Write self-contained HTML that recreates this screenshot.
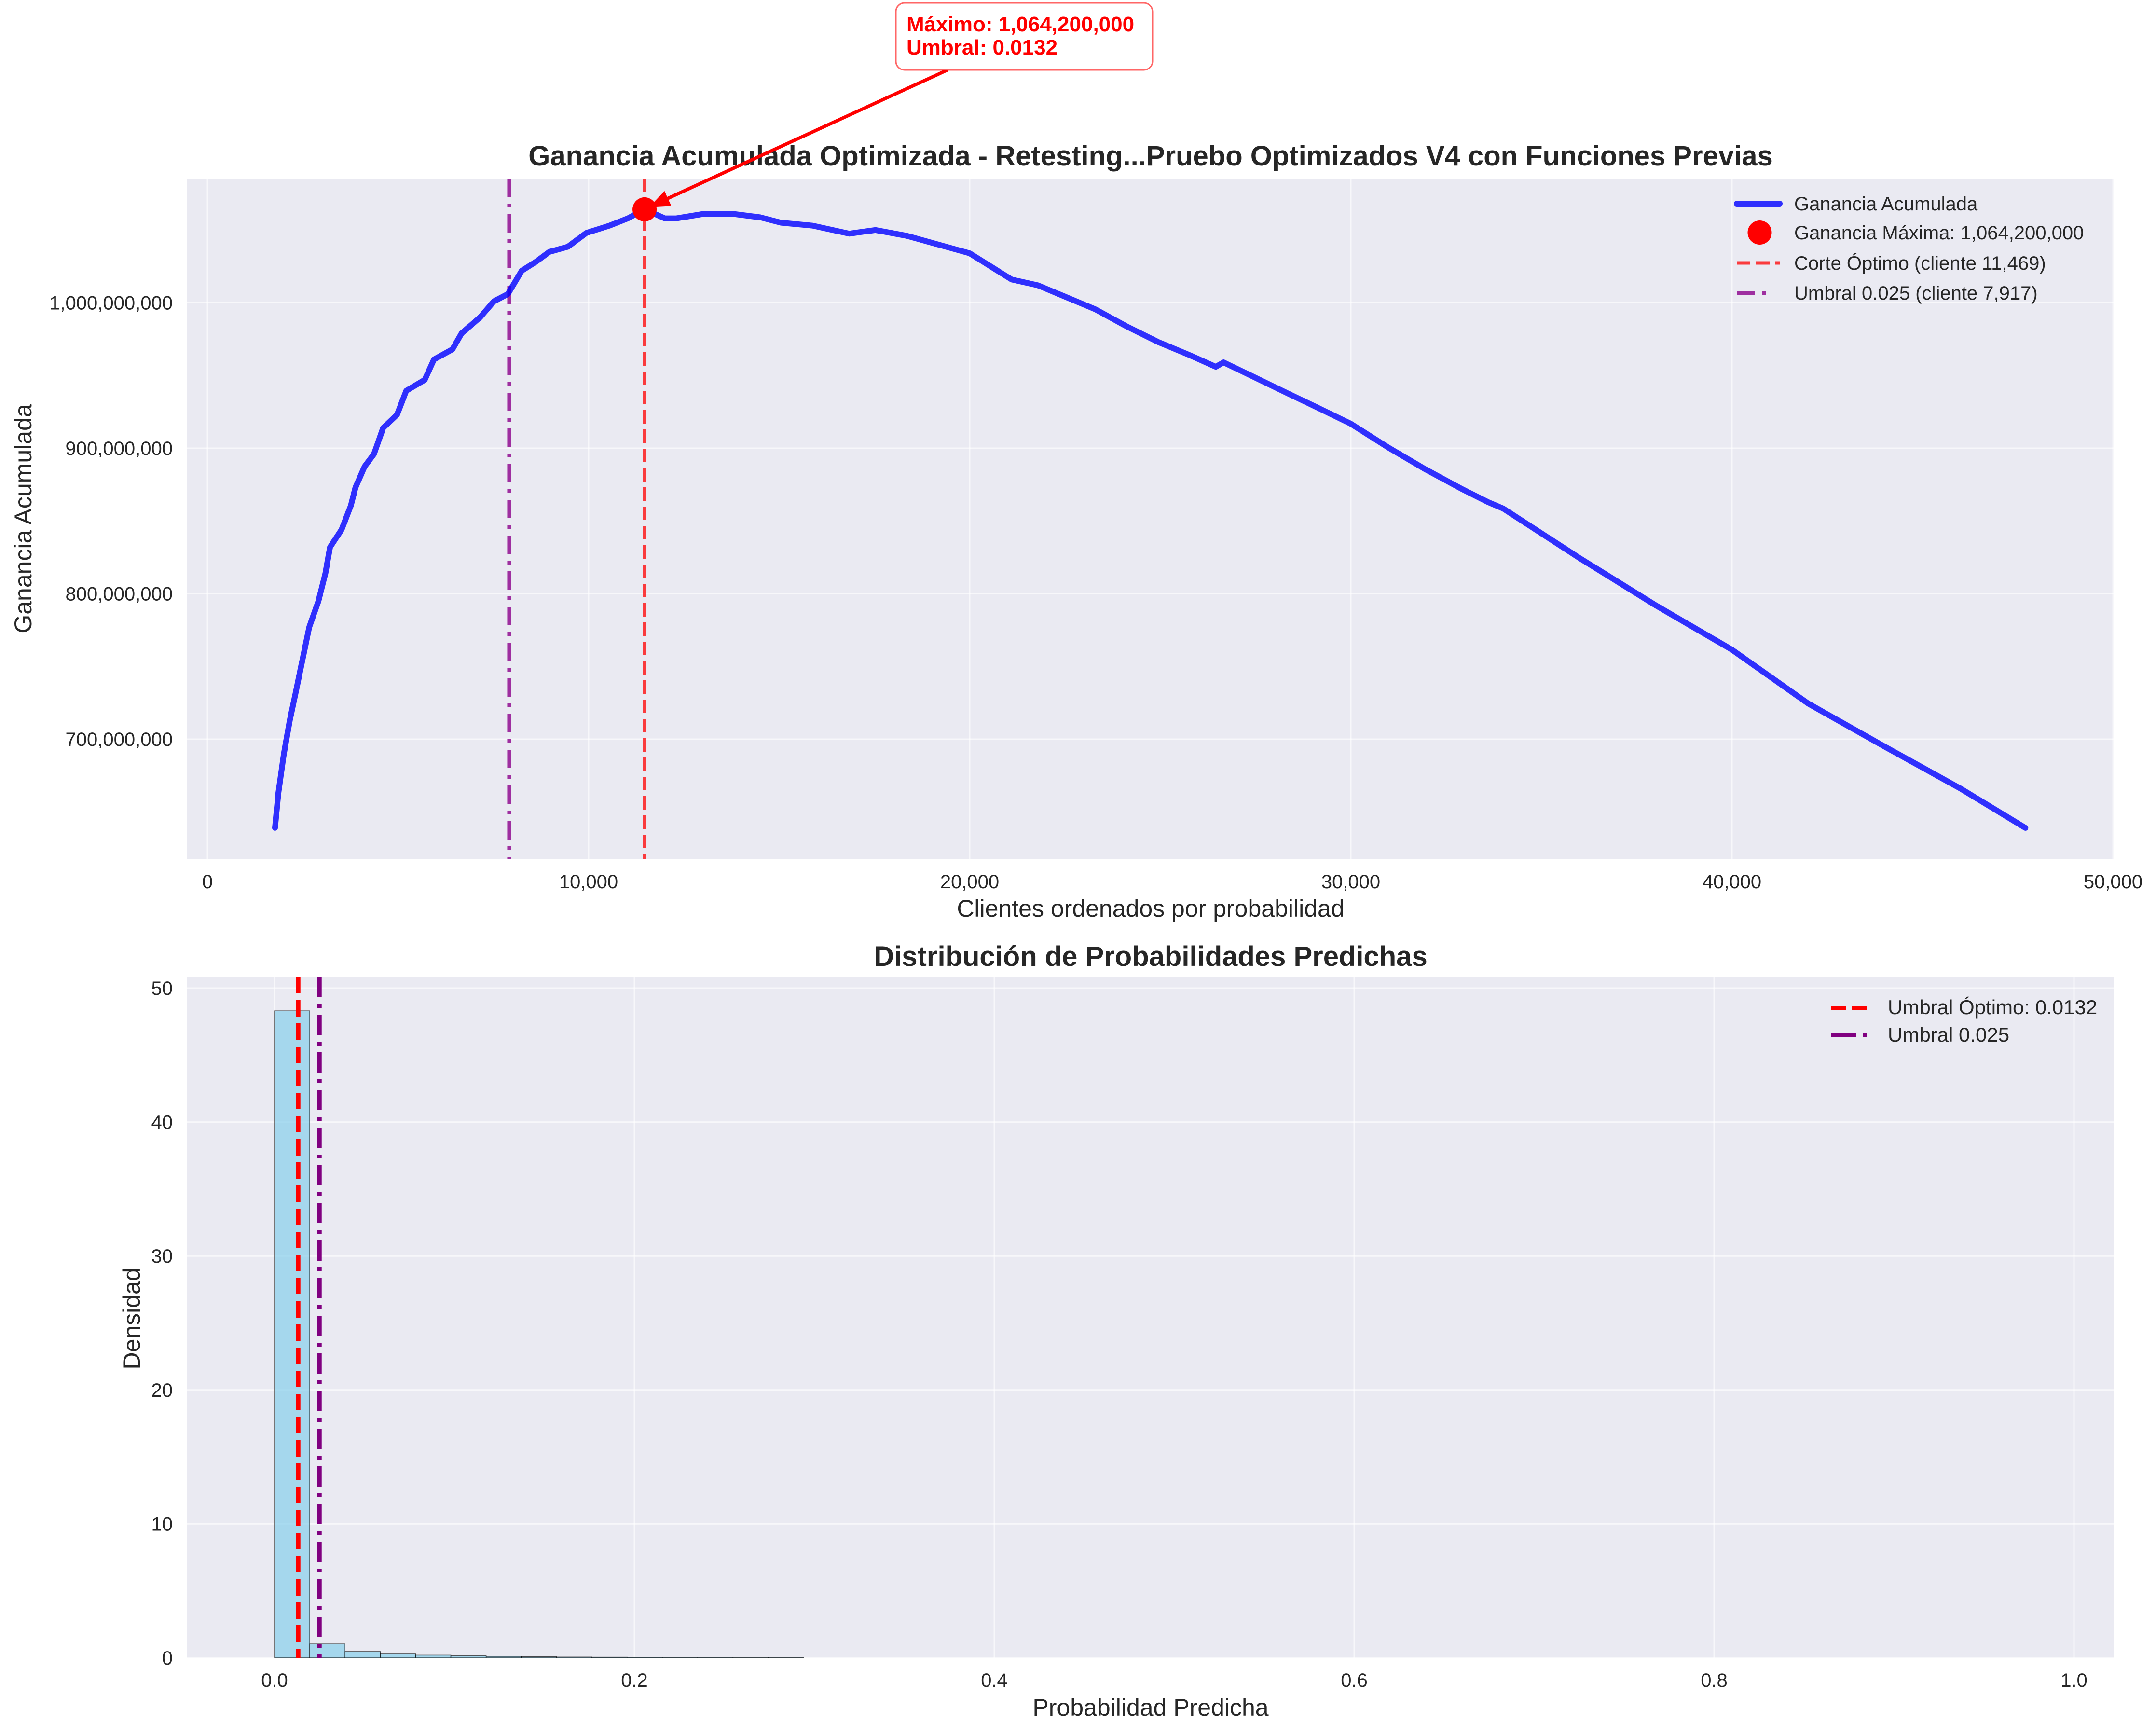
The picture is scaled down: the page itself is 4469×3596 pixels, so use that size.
<!DOCTYPE html>
<html><head><meta charset="utf-8"><style>
html,body{margin:0;padding:0;background:#fff;}
svg{display:block;font-family:"Liberation Sans",Arial,sans-serif;}
</style></head><body>
<svg id="chart" xmlns="http://www.w3.org/2000/svg" width="4469" height="3596" viewBox="0 0 4469 3596">
<defs>
<marker id="ah" viewBox="0 0 10 10" refX="9" refY="5" markerWidth="6" markerHeight="6" orient="auto"><path d="M0,1 L10,5 L0,9 z" fill="#ff0000"/></marker>
</defs>
<g id="top"></g>
<g id="bot"></g>
</svg>
<script>
// ---- top chart data ----
const clientes = [1772,1858,2003,2161,2307,2489,2671,2913,3095,3216,3519,3762,3883,4125,4368,4610,4974,5216,5700,5943,6428,6670,7155,7518,7882,8245,8609,8972,9457,9942,10547,11032,11469,12000,12308,13000,13819,14505,15055,15879,16840,17527,18352,19176,20000,20549,21100,21786,22473,23297,24121,24945,25769,26456,26662,27418,28242,29066,30000,30989,31950,32912,33599,34000,36000,38000,40000,42000,44000,46000,47700];
const gananciaM = [639,662.5,689.5,713,731,754,777,795,814,832,844,860.5,873,887.5,896,914,923,939.5,947,961,968,979,990,1001,1006,1022,1028,1035,1038.5,1048,1053,1058,1064.2,1058,1058,1061,1061,1058.7,1055,1053,1047.5,1050,1046,1040,1034,1025,1016,1012,1004.5,995.5,983.7,973,964,956,959,949.5,939,928.7,916.8,900.4,885.6,872,863,858.5,824.5,792,761.5,724.5,695,666,639];
const topXTicks = [0,10000,20000,30000,40000,50000];
const topYTicks = [700,800,900,1000];
const maxCliente = 11469;
const maxGananciaM = 1064.2;
const umbralCliente = 7917;
// ---- histogram data ----
const binWidth = 0.0196;
const densidad = [48.3,1.04,0.47,0.29,0.2,0.15,0.11,0.08,0.06,0.05,0.04,0.03,0.03,0.02,0.02];
const botXTicks = [0.0,0.2,0.4,0.6,0.8,1.0];
const botYTicks = [0,10,20,30,40,50];
const umbralOptimo = 0.0132;
const umbral025 = 0.025;

const NS = "http://www.w3.org/2000/svg";
function mk(parent, tag, attrs, text){
  const e = document.createElementNS(NS, tag);
  for (const k in attrs) e.setAttribute(k, attrs[k]);
  if (text !== undefined) e.textContent = text;
  parent.appendChild(e);
  return e;
}
const fmt = n => n.toLocaleString('en-US');
const GRID = {stroke:'#ffffff','stroke-opacity':0.6,'stroke-width':3};

// ===== TOP =====
const T = document.getElementById('top');
const tL=388, tR=4382, tT=370, tB=1780;
const sx = x => 430 + x*0.0790;
const sy = v => 627.5 - (v-1000)*3.015;
let e = mk(T,'rect',{x:tL,y:tT,width:tR-tL,height:tB-tT,fill:'#EAEAF2'});
 
topXTicks.forEach(t=>{
  e = mk(T,'line',Object.assign({x1:sx(t),x2:sx(t),y1:tT,y2:tB},GRID));
   
  e = mk(T,'text',{x:sx(t),y:1841,'font-size':40,fill:'#262626','text-anchor':'middle'},fmt(t));
   
});
topYTicks.forEach(t=>{
  e = mk(T,'line',Object.assign({x1:tL,x2:tR,y1:sy(t),y2:sy(t)},GRID));
   
  e = mk(T,'text',{x:358,y:sy(t)+14,'font-size':40,fill:'#262626','text-anchor':'end'},fmt(t*1000000));
   
});
e = mk(T,'line',{x1:sx(umbralCliente),x2:sx(umbralCliente),y1:tT,y2:tB,stroke:'#8B008B','stroke-opacity':0.8,'stroke-width':8,'stroke-dasharray':'38 14 8 14'});
 
const pts = clientes.map((c,i)=>sx(c).toFixed(1)+','+sy(gananciaM[i]).toFixed(1)).join(' ');
e = mk(T,'polyline',{points:pts,fill:'none',stroke:'#0000ff','stroke-opacity':0.8,'stroke-width':12,'stroke-linejoin':'round','stroke-linecap':'round'});
 
e = mk(T,'line',{x1:sx(maxCliente),x2:sx(maxCliente),y1:tT,y2:tB,stroke:'#ff0000','stroke-opacity':0.75,'stroke-width':7,'stroke-dasharray':'28 12'});
 
e = mk(T,'circle',{cx:sx(maxCliente),cy:sy(maxGananciaM),r:25,fill:'#ff0000'});
 
e = mk(T,'text',{x:2385,y:343,'font-size':58,'font-weight':'bold',fill:'#262626','text-anchor':'middle'},'Ganancia Acumulada Optimizada - Retesting...Pruebo Optimizados V4 con Funciones Previas');
 
e = mk(T,'text',{x:2385,y:1900,'font-size':50,fill:'#262626','text-anchor':'middle'},'Clientes ordenados por probabilidad');
 
e = mk(T,'text',{x:0,y:0,'font-size':50,fill:'#262626','text-anchor':'middle',transform:'translate(65,1075) rotate(-90)'},'Ganancia Acumulada');
 
e = mk(T,'line',{x1:1964,y1:145,x2:sx(maxCliente)+14,y2:sy(maxGananciaM)-7,stroke:'#ff0000','stroke-width':7,'marker-end':'url(#ah)'});
 
e = mk(T,'rect',{x:1857,y:6,width:532,height:139,rx:18,fill:'#fff',stroke:'#ff0000','stroke-opacity':0.6,'stroke-width':3});
 
e = mk(T,'text',{x:1879,y:65,'font-size':44,'font-weight':'bold',fill:'#ff0000'},'Máximo: 1,064,200,000');
 
e = mk(T,'text',{x:1879,y:113,'font-size':44,'font-weight':'bold',fill:'#ff0000'},'Umbral: 0.0132');
 
const lg = mk(T,'g',{});
 
const lx1=3600, lx2=3689, ltx=3719;
const rows=[422,482,545,607];
e = mk(lg,'line',{x1:lx1,x2:lx2,y1:rows[0],y2:rows[0],stroke:'#0000ff','stroke-opacity':0.8,'stroke-width':12,'stroke-linecap':'round'});
 
e = mk(lg,'circle',{cx:(lx1+lx2)/2+3,cy:rows[1],r:25,fill:'#ff0000'});
 
e = mk(lg,'line',{x1:lx1,x2:lx2,y1:rows[2],y2:rows[2],stroke:'#ff0000','stroke-opacity':0.75,'stroke-width':7,'stroke-dasharray':'28 12'});
 
e = mk(lg,'line',{x1:lx1,x2:lx2,y1:rows[3],y2:rows[3],stroke:'#8B008B','stroke-opacity':0.8,'stroke-width':8,'stroke-dasharray':'38 14 8 30'});
 
const ltexts=['Ganancia Acumulada','Ganancia Máxima: 1,064,200,000','Corte Óptimo (cliente 11,469)','Umbral 0.025 (cliente 7,917)'];
ltexts.forEach((t,i)=>{
  e = mk(lg,'text',{x:ltx,y:rows[i]+14,'font-size':40,fill:'#262626'},t);
   
});

// ===== BOTTOM =====
const B = document.getElementById('bot');
const bL=388, bR=4382, bT=2025, bB=3436;
const bx = p => 569 + p*3730;
const by = d => 3436 - d*27.76;
e = mk(B,'rect',{x:bL,y:bT,width:bR-bL,height:bB-bT,fill:'#EAEAF2'});
 
botXTicks.forEach(t=>{
  e = mk(B,'line',Object.assign({x1:bx(t),x2:bx(t),y1:bT,y2:bB},GRID));
   
  e = mk(B,'text',{x:bx(t),y:3496,'font-size':40,fill:'#262626','text-anchor':'middle'},t.toFixed(1));
   
});
botYTicks.forEach(t=>{
  e = mk(B,'line',Object.assign({x1:bL,x2:bR,y1:by(t),y2:by(t)},GRID));
   
  e = mk(B,'text',{x:358,y:by(t)+14,'font-size':40,fill:'#262626','text-anchor':'end'},String(t));
   
});
densidad.forEach((d,i)=>{
  const x0=bx(i*binWidth), x1=bx((i+1)*binWidth);
  e = mk(B,'rect',{x:x0,y:by(d),width:x1-x0,height:bB-by(d),fill:'#87CEEB','fill-opacity':0.7,stroke:'#000','stroke-opacity':0.7,'stroke-width':1.5});
   
});
e = mk(B,'line',{x1:bx(umbralOptimo),x2:bx(umbralOptimo),y1:bT,y2:bB,stroke:'#ff0000','stroke-width':9,'stroke-dasharray':'34 14'});
 
e = mk(B,'line',{x1:bx(umbral025),x2:bx(umbral025),y1:bT,y2:bB,stroke:'#800080','stroke-width':9,'stroke-dasharray':'42 14 8 14'});
 
e = mk(B,'text',{x:2385,y:2002,'font-size':58,'font-weight':'bold',fill:'#262626','text-anchor':'middle'},'Distribución de Probabilidades Predichas');
 
e = mk(B,'text',{x:2385,y:3556,'font-size':50,fill:'#262626','text-anchor':'middle'},'Probabilidad Predicha');
 
e = mk(B,'text',{x:0,y:0,'font-size':50,fill:'#262626','text-anchor':'middle',transform:'translate(290,2733) rotate(-90)'},'Densidad');
 
const bl = mk(B,'g',{});
 
e = mk(bl,'line',{x1:3795,x2:3870,y1:2089,y2:2089,stroke:'#ff0000','stroke-width':8,'stroke-dasharray':'31 13'});
 
e = mk(bl,'line',{x1:3795,x2:3870,y1:2146,y2:2146,stroke:'#800080','stroke-width':8,'stroke-dasharray':'53 14 8 20'});
 
e = mk(bl,'text',{x:3913,y:2102,'font-size':42,fill:'#262626'},'Umbral Óptimo: 0.0132');
 
e = mk(bl,'text',{x:3913,y:2159,'font-size':42,fill:'#262626'},'Umbral 0.025');
 
</script>
</body></html>
